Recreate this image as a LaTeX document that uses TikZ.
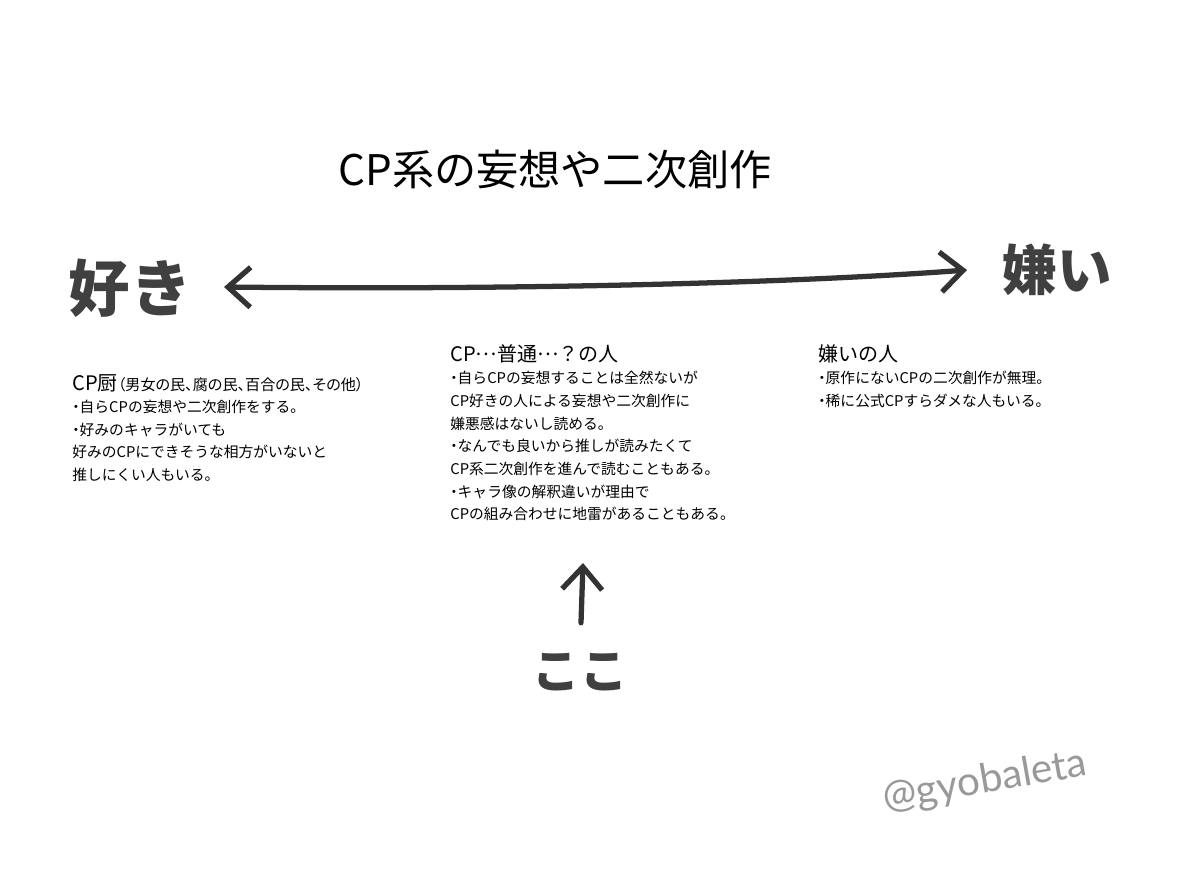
\documentclass[tikz,border=0pt]{standalone}
\usepackage{fontspec}
\setmainfont{Noto Sans CJK JP}
\newfontfamily\signfont{Lato}
\newcommand\tenten{\raisebox{0.3em}{…}}
\newcommand\propw{\addfontfeature{RawFeature=+palt}}
\newcommand\nakaten{{\propw ・}}
\usetikzlibrary{positioning, arrows.meta}

\begin{document}
\begin{tikzpicture}[
  x=0.02cm, y=-0.02cm,
  node distance=2mm,
  title/.style={font=\fontsize{24}{28}\selectfont, inner sep=0pt},
  head/.style={font=\fontsize{11.4}{14}\selectfont, inner sep=0pt, anchor=west},
  body/.style={font=\fontsize{8.4}{12.9}\selectfont, align=left, inner sep=0pt},
  hand/.style={font=\bfseries\fontsize{33}{36}\selectfont, text=black!75, inner sep=0pt},
  sign/.style={font=\signfont\fontsize{23}{26}\selectfont, text=black!40, inner sep=0pt},
  barb/.tip={Straight Barb[length=4.5mm, width=8mm]},
  arr/.style={line width=3pt, draw=black!80, line cap=round, line join=round}
]
  \useasboundingbox (0,0) rectangle (1200,874);

  \node[title] (title) at (555,170) {CP系の妄想や二次創作};

  % scale ends
  \node[hand, font=\bfseries\fontsize{35}{38}\selectfont] (suki) at (130,288) {好き};
  \node[hand, font=\bfseries\fontsize{31}{34}\selectfont] (kirai) at (1057,270) {嫌い};
  \coordinate (lend) at (224,287);
  \coordinate (rend) at (967,270);
  \draw[arr, {barb}-{barb}] (lend) .. controls (500,290) and (780,284) .. (rend);

  % three groups
  \node[head] (chuu) at (72,383) {CP厨{\propw\fontsize{8.6}{10}\selectfont（男女の民、腐の民、百合の民、その他）}};
  \node[body, below=1.5mm of chuu.south west, anchor=north west] (chuutxt) {%
    \nakaten 自らCPの妄想や二次創作をする。\\
    \nakaten 好みのキャラがいても\\
    好みのCPにできそうな相方がいないと\\
    推しにくい人もいる。};

  \node[head] (futsu) at (450,354) {CP\tenten 普通\tenten ？の人};
  \node[body, below=1.5mm of futsu.south west, anchor=north west] (futsutxt) {%
    \nakaten 自らCPの妄想することは全然ないが\\
    CP好きの人による妄想や二次創作に\\
    嫌悪感はないし読める。\\
    \nakaten なんでも良いから推しが読みたくて\\
    CP系二次創作を進んで読むこともある。\\
    \nakaten キャラ像の解釈違いが理由で\\
    CPの組み合わせに地雷があることもある。};

  \node[head] (kiraihito) at (818,354) {嫌いの人};
  \node[body, below=1.5mm of kiraihito.south west, anchor=north west] (kiraitxt) {%
    \nakaten 原作にないCPの二次創作が無理。\\
    \nakaten 稀に公式CPすらダメな人もいる。};

  % here
  \node[hand, font=\bfseries\fontsize{27}{30}\selectfont] (koko) at (580,672) {ここ};
  \coordinate (uptip) at (583,563);
  \draw[arr, -{barb}, shorten <=6mm] (koko.north) -- (uptip);

  \node[sign, rotate=10] (sign) at (985,782) {@gyobaleta};
\end{tikzpicture}
\end{document}
